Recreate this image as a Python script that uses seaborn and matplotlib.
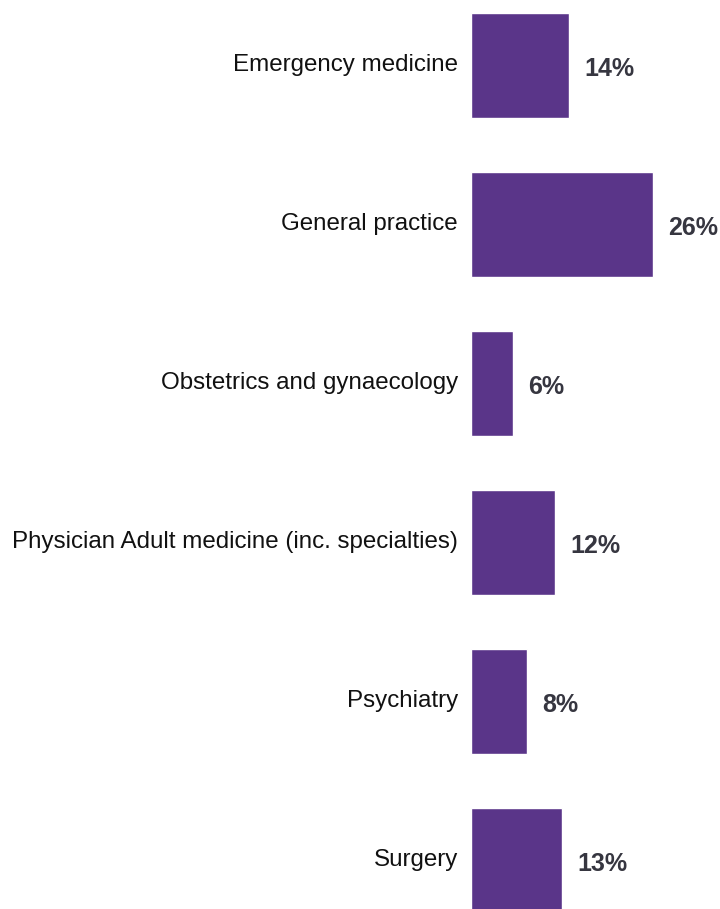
import matplotlib
matplotlib.use("Agg")
import matplotlib.pyplot as plt
import matplotlib.transforms as mtransforms
import seaborn as sns
import pandas as pd

# data
categories = [
    "Emergency medicine",
    "General practice",
    "Obstetrics and gynaecology",
    "Physician Adult medicine (inc. specialties)",
    "Psychiatry",
    "Surgery",
]
values = [14, 26, 6, 12, 8, 13]

df = pd.DataFrame({"category": categories, "value": values})

sns.set_style("white")
plt.rcParams["font.family"] = ["Liberation Sans", "DejaVu Sans"]

W, H = 720, 909
fig = plt.figure(figsize=(W / 100, H / 100), dpi=100)
# axes starts at x=471px, spans full height
ax = fig.add_axes([471 / W, 0, 1 - 471 / W, 1])

sns.barplot(data=df, x="value", y="category", orient="h",
            color="#5a3589", width=105 / 159, saturation=1, ax=ax)

# 7 px per percentage point
ax.set_xlim(0, (W - 471) / 7)
ax.set_ylim((H - 65.5) / 159, -65.5 / 159)

sns.despine(ax=ax, left=True, bottom=True)
ax.set_xticks([])
ax.set_xlabel("")
ax.set_ylabel("")
ax.tick_params(axis="y", length=0, pad=9.4, labelsize=17.4, labelcolor="#111111")
# nudge category labels slightly upward
shift = mtransforms.ScaledTranslation(0, 3 / 100, fig.dpi_scale_trans)
for lbl in ax.get_yticklabels():
    lbl.set_transform(lbl.get_transform() + shift)

for i, v in enumerate(values):
    ax.annotate(f"{v}%", xy=(v, i), xytext=(15, -3.5), textcoords="offset pixels",
                ha="left", va="center", fontsize=18, fontweight="bold",
                color="#363640")

fig.savefig("out.png", dpi=100)
